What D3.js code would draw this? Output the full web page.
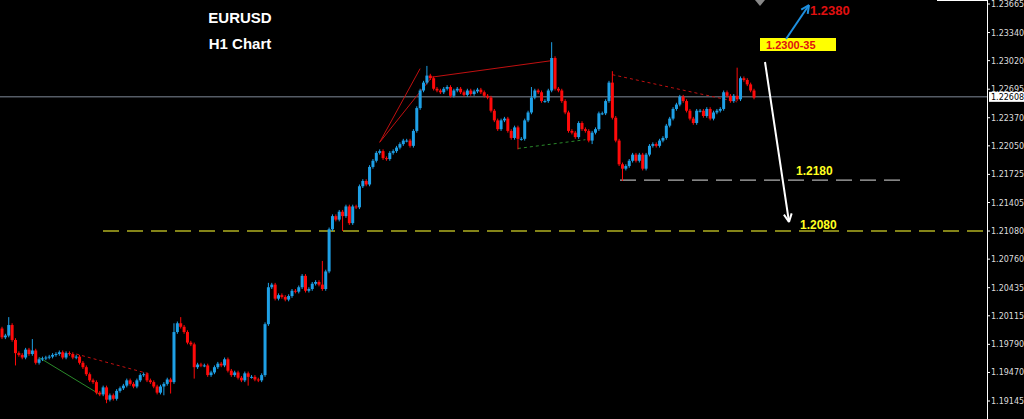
<!DOCTYPE html>
<html><head><meta charset="utf-8">
<script src="https://cdn.jsdelivr.net/npm/d3@7"></script>
<style>body{margin:0;background:#000}svg{display:block}</style>
</head><body><svg id="c" width="1024" height="419"></svg>
<script>
const closes=[1.1987,1.1989,1.2001,1.1984,1.1969,1.1967,1.1964,1.1973,1.1968,1.1972,1.1958,1.1962,1.1963,1.1964,1.1965,1.1967,1.1968,1.1970,1.1964,1.1969,1.1968,1.1964,1.1965,1.1958,1.1953,1.1945,1.1938,1.1936,1.1924,1.1922,1.1930,1.1916,1.1921,1.1917,1.1926,1.1929,1.1932,1.1938,1.1934,1.1931,1.1938,1.1944,1.1945,1.1938,1.1936,1.1931,1.1924,1.1931,1.1934,1.1939,1.1936,
1.1993,1.2003,1.1999,1.1993,1.1981,1.1979,1.1953,1.1956,1.1955,1.1955,1.1944,1.1947,1.1953,1.1957,1.1955,1.1962,1.1949,1.1944,1.1947,1.1941,1.1938,1.1946,1.1942,1.1942,1.1939,1.1938,1.1944,1.2002,1.2044,1.2047,1.2031,1.2035,1.2033,1.2030,1.2034,1.2040,1.2039,1.2044,1.2057,1.2040,1.2042,1.2048,1.2050,1.2047,1.2042,1.2062,1.2110,1.2125,1.2121,1.2130,1.2125,1.2136,1.2117,1.2136,1.2135,1.2159,1.2165,
1.2161,1.2181,1.2188,1.2197,1.2199,1.2191,1.2190,1.2197,1.2199,1.2203,1.2207,1.2211,1.2211,1.2205,1.2222,1.2248,1.2268,1.2277,1.2285,1.2282,1.2270,
1.2268,1.2266,1.2270,1.2272,1.2262,1.2268,1.2270,1.2266,1.2263,1.2268,1.2264,1.2267,1.2269,1.2266,1.2262,1.2260,
1.2245,1.2234,1.2224,1.2234,1.2236,1.2222,1.2214,1.2226,1.2213,1.2213,1.2234,1.2243,1.2260,1.2268,1.2266,1.2256,1.2256,1.2268,1.2305,1.2270,1.2268,1.2256,1.2243,1.2222,1.2220,1.2215,1.2231,1.2224,1.2222,1.2211,1.2220,1.2224,1.2242,1.2242,1.2256,1.2277,1.2237,1.2211,1.2184,1.2179,1.2182,1.2188,1.2195,1.2188,1.2195,1.2179,1.2195,1.2205,1.2207,1.2205,1.2211,1.2214,1.2228,1.2236,1.2247,1.2252,1.2261,1.2256,1.2245,1.2236,1.2231,1.2245,1.2245,1.2239,1.2247,1.2236,1.2243,1.2245,1.2247,1.2266,1.2262,1.2256,1.2262,1.2258,1.2282,1.2280,1.2275,1.2268,1.2260];
const firstOpen=1.1997;
// notable wick extremes [index, price]
const wickHigh=[[2,1.2010],[9,1.1985],[51,1.2003],[53,1.2010],[126,1.2296],[163,1.2323],[157,1.2272],[181,1.2290],[218,1.2294],[95,1.2074],[79,1.2049]];
const wickLow=[[4,1.1955],[31,1.1912],[34,1.1915],[48,1.1921],[50,1.1923],[57,1.1940],[73,1.1932],[153,1.2201],[184,1.2165],[175,1.2207],[101,1.2108]];
const ticks=[1.23665,1.23340,1.23020,1.22695,1.22370,1.22050,1.21725,1.21405,1.21080,1.20760,1.20435,1.20115,1.19790,1.19470,1.19145];
const lastPrice=1.22608;
const levels=[{p:1.2108,label:"1.2080"},{p:1.2166,label:"1.2180"}];

const svg=d3.select("#c");
const W=1024,H=419,axisX=987;
const y=d3.scaleLinear().domain([1.19145,1.23665]).range([401,4]);
const x=d3.scaleLinear().domain([0,closes.length-1]).range([2,754]);
const data=closes.map((c,i)=>{const o=i?closes[i-1]:firstOpen;return{i,o,c,h:Math.max(o,c)+0.0002,l:Math.min(o,c)-0.0002};});
wickHigh.forEach(([i,h])=>data[i].h=Math.max(data[i].h,h));
wickLow.forEach(([i,l])=>data[i].l=Math.min(data[i].l,l));

svg.append("rect").attr("width",W).attr("height",H).attr("fill","#000");
svg.append("line").attr("x1",103).attr("x2",axisX).attr("y1",y(levels[0].p)).attr("y2",y(levels[0].p)).attr("stroke","#b0b020").attr("stroke-width",1.5).attr("stroke-dasharray","16,8");
svg.append("line").attr("x1",620).attr("x2",900).attr("y1",y(levels[1].p)).attr("y2",y(levels[1].p)).attr("stroke","#dddddd").attr("stroke-width",1).attr("stroke-dasharray","16,8");
svg.append("line").attr("x1",0).attr("x2",axisX).attr("y1",y(lastPrice)).attr("y2",y(lastPrice)).attr("stroke","#7f8a99").attr("stroke-width",1);
const tl=(a,pa,b,pb,col,dash)=>svg.append("line").attr("x1",x(a)).attr("y1",y(pa)).attr("x2",x(b)).attr("y2",y(pb)).attr("stroke",col).attr("stroke-width",1).attr("stroke-dasharray",dash||null);
tl(11,1.1964,29,1.1922,"#2a8a2a");
tl(22,1.1968,44,1.1945,"#c01010","3,3");
tl(112,1.2209,124,1.2293,"#c01010");
tl(112,1.2209,127,1.2281,"#c01010");
tl(127,1.2283,163,1.2302,"#c01010");
tl(153,1.2202,173,1.2212,"#2a8a2a","3,3");
tl(181,1.2286,218,1.2255,"#c01010","3,3");
const g=svg.append("g");
g.selectAll(".w").data(data).join("line").attr("x1",d=>x(d.i)).attr("x2",d=>x(d.i)).attr("y1",d=>y(d.h)).attr("y2",d=>y(d.l)).attr("stroke",d=>d.c>=d.o?"#1ea0e6":"#ff0a0a").attr("stroke-width",1);
g.selectAll(".b").data(data).join("rect").attr("x",d=>x(d.i)-1.5).attr("width",3).attr("y",d=>y(Math.max(d.o,d.c))).attr("height",d=>Math.max(1,Math.abs(y(d.o)-y(d.c)))).attr("fill",d=>d.c>=d.o?"#1ea0e6":"#ff0a0a");
svg.append("line").attr("x1",axisX+0.5).attr("x2",axisX+0.5).attr("y1",0).attr("y2",H).attr("stroke","#fff");
svg.append("line").attr("x1",axisX-50).attr("x2",axisX).attr("y1",0.5).attr("y2",0.5).attr("stroke","#fff");
const ax=svg.append("g").attr("font-family","Tahoma, DejaVu Sans, sans-serif").attr("font-size",8).attr("fill","#ddd");
ticks.forEach(t=>{ax.append("line").attr("x1",axisX).attr("x2",axisX+3).attr("y1",y(t)).attr("y2",y(t)).attr("stroke","#fff");
 ax.append("text").attr("x",991).attr("y",y(t)+3).text(t.toFixed(5));});
svg.append("rect").attr("x",989).attr("y",y(lastPrice)-5).attr("width",35).attr("height",10).attr("fill","#fff");
svg.append("text").attr("x",991).attr("y",y(lastPrice)+3.5).attr("font-family","Tahoma, DejaVu Sans, sans-serif").attr("font-size",8).attr("fill","#000").text(lastPrice.toFixed(5));
const tt=svg.append("g").attr("font-family","Arial, Liberation Sans, sans-serif").attr("font-weight","bold").attr("font-size",15).attr("fill","#fff").attr("text-anchor","middle");
tt.append("text").attr("x",240).attr("y",23).text("EURUSD");
tt.append("text").attr("x",240).attr("y",49).text("H1 Chart");
const lab=(t,px,py,col,sz)=>svg.append("text").attr("x",px).attr("y",py).attr("font-family","Arial, Liberation Sans, sans-serif").attr("font-weight","bold").attr("font-size",sz||12).attr("fill",col).text(t);
lab(levels[0].label,800,y(levels[0].p)-2,"#ffff20");
lab(levels[1].label,796,y(levels[1].p)-5,"#ffff20");
lab("1.2380",810,15,"#e01010",13);
svg.append("rect").attr("x",760).attr("y",38).attr("width",76).attr("height",13).attr("fill","#ffff00");
lab("1.2300-35",766,49,"#e01010",11);
const arrow=(x1,y1,x2,y2,col)=>{svg.append("line").attr("x1",x1).attr("y1",y1).attr("x2",x2).attr("y2",y2).attr("stroke",col).attr("stroke-width",2);
 const a=Math.atan2(y2-y1,x2-x1),L=9;
 svg.append("path").attr("d",`M${x2},${y2}L${x2-L*Math.cos(a-0.45)},${y2-L*Math.sin(a-0.45)}M${x2},${y2}L${x2-L*Math.cos(a+0.45)},${y2-L*Math.sin(a+0.45)}`).attr("stroke",col).attr("stroke-width",2).attr("fill","none");};
arrow(765,62,789,222,"#ffffff");
arrow(786,39,809,5,"#1e90e0");
svg.append("path").attr("d","M755,0L765,0L760,6Z").attr("fill","#888");
</script></body></html>
